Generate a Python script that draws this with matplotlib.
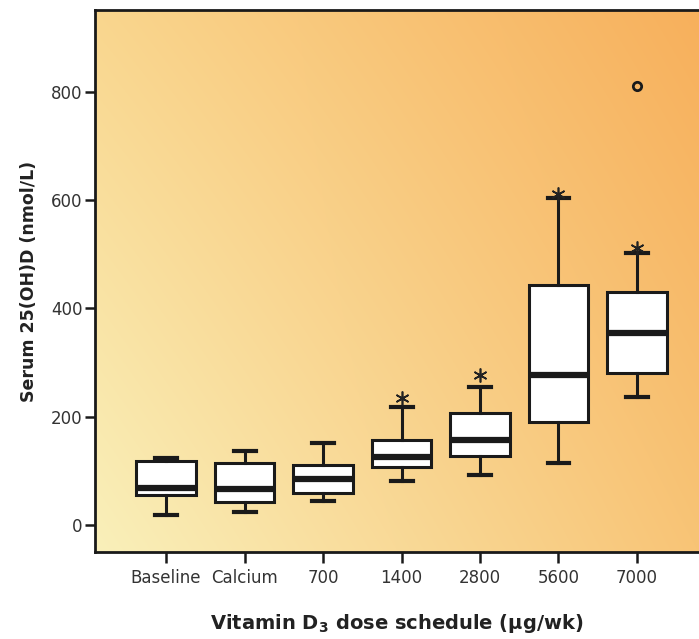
import numpy as np
import matplotlib.pyplot as plt

# values (nmol/L)
groups = ['Baseline', 'Calcium', '700', '1400', '2800', '5600', '7000']
whislo = [18, 24, 44, 81, 92, 115, 236]
q1 = [55, 42, 59, 107, 127, 190, 281]
med = [68, 67, 85, 126, 157, 277, 355]
q3 = [118, 115, 111, 157, 207, 443, 430]
whishi = [124, 137, 151, 218, 255, 604, 502]

# extreme values marked with an asterisk / circle
star_group = [3, 4, 5, 6]
star_val = [235, 277, 611, 512]
circle_group = [6]
circle_val = [811]

plt.rcParams['font.family'] = ['DejaVu Sans']

fig = plt.figure(figsize=(6.99, 6.39), dpi=100)
ax = fig.add_axes([95 / 699, 1 - 552 / 639, 1 - 95 / 699, (552 - 10) / 639])

# diagonal yellow -> orange background (bilinear blend of corner colours)
tl = np.array([250, 214, 142]) / 255.0
tr = np.array([247, 176, 92]) / 255.0
bl = np.array([250, 240, 186]) / 255.0
br = np.array([248, 196, 118]) / 255.0
u = np.linspace(0, 1, 200)[None, :, None]
v = np.linspace(0, 1, 200)[:, None, None]
top = tl * (1 - u) + tr * u
bot = bl * (1 - u) + br * u
bg = top * (1 - v) + bot * v
ax.imshow(bg, extent=[0, 1, 0, 1], transform=ax.transAxes,
          interpolation='bilinear', aspect='auto', zorder=0)

stats = []
for i, g in enumerate(groups):
    stats.append(dict(label=g, whislo=whislo[i], q1=q1[i], med=med[i],
                      q3=q3[i], whishi=whishi[i], fliers=[]))

ax.bxp(stats, positions=range(len(groups)), widths=0.76, capwidths=0.28,
       showfliers=False, patch_artist=True,
       boxprops=dict(facecolor='white', edgecolor='#1a1a1a', linewidth=2.2),
       medianprops=dict(color='#1a1a1a', linewidth=4.5),
       whiskerprops=dict(color='#1a1a1a', linewidth=2.2),
       capprops=dict(color='#1a1a1a', linewidth=3),
       zorder=3)

ax.plot(star_group, star_val, linestyle='none', marker=(6, 2, 0),
        markersize=10, markeredgewidth=1.2, color='#222222', zorder=4)
ax.plot(circle_group, circle_val, linestyle='none', marker='o',
        markersize=6, markerfacecolor='none', markeredgewidth=2,
        markeredgecolor='#1a1a1a', zorder=4)

ax.set_xlim(-0.905, 6.79)
ax.set_ylim(-50, 951)
ax.set_yticks([0, 200, 400, 600, 800])
ax.set_xticks(range(len(groups)))
ax.set_xticklabels(groups)

for side in ['left', 'bottom', 'top']:
    ax.spines[side].set_linewidth(2)
    ax.spines[side].set_color('#1a1a1a')
ax.spines['right'].set_visible(False)

ax.tick_params(axis='x', length=8, width=1.8, pad=4, labelsize=12,
               colors='#1a1a1a', labelcolor='#333333')
ax.tick_params(axis='y', length=7, width=1.8, pad=2, labelsize=12,
               colors='#1a1a1a', labelcolor='#333333')

ax.set_xlabel(r'Vitamin D$_\mathbf{3}$ dose schedule (µg/wk)',
              fontsize=14, fontweight='bold', color='#222222', labelpad=18)
ax.set_ylabel('Serum 25(OH)D (nmol/L)', fontsize=12.5,
              fontweight='bold', color='#222222', labelpad=9)

fig.savefig('out.png', dpi=100)
